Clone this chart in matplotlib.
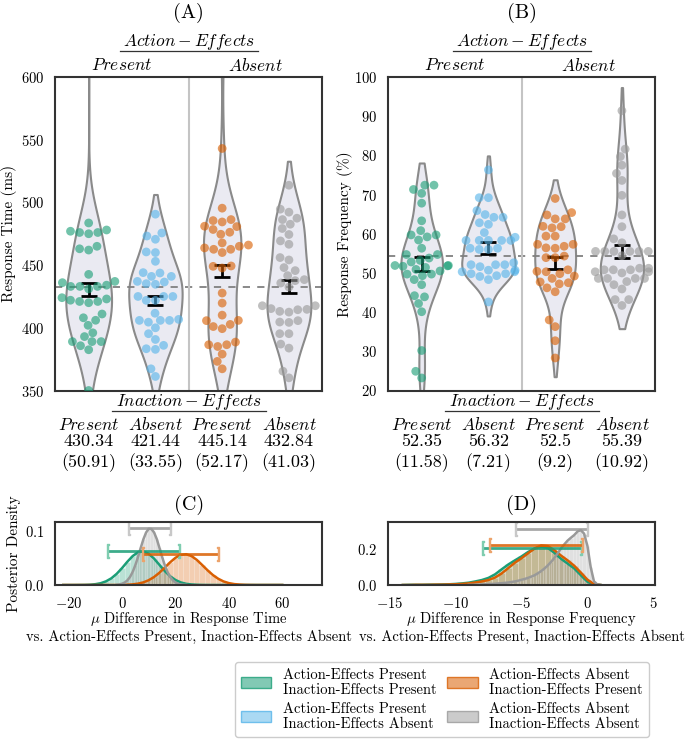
import matplotlib
matplotlib.use("Agg")
import matplotlib.pyplot as plt
from matplotlib.patches import Patch
from matplotlib.colors import to_rgba
import numpy as np
import pandas as pd
import seaborn as sns

plt.rcParams["font.family"] = "cmr10"
plt.rcParams["mathtext.fontset"] = "cm"
plt.rcParams["axes.formatter.use_mathtext"] = True

# ---- data -----------------------------------------------------------------
cond_order = ["pp", "pa", "ap", "aa"]
cond_colors = ["#1b9e77", "#56B4E9", "#d95f02", "#999999"]
top_labels = ["$Present$", "$Absent$"]
bottom_labels = ["$Present$", "$Absent$", "$Present$", "$Absent$"]

# (A) response time per participant (ms)
rt_pp = [483.6, 476, 476, 475, 477, 478, 463, 462, 465, 442.6, 433, 434, 436, 433, 433, 437,
         431, 424, 422, 421, 420, 421, 423, 411, 406, 408, 402, 396, 393, 389, 389, 389,
         385.7, 382.5, 350, 650]
rt_pa = [490.6, 473.2, 470.6, 475.6, 460, 460.5, 453, 441, 441, 435.2, 434.7, 443.7, 436.5,
         437, 444, 425, 421.9, 421.9, 425, 425, 406.7, 405.9, 400, 404.5, 405.9, 405.9, 411.6,
         390.7, 395.3, 383.3, 382.8, 386, 367.3, 361.2]
rt_ap = [543, 495.4, 481, 478.4, 484.4, 485.5, 480.7, 486.3, 474.6, 476.2, 467.7, 465, 462.6,
         460, 462.6, 463.7, 466, 447.7, 449.3, 449, 427.7, 419.7, 410.1, 405.7, 401, 399.3,
         402.7, 405.9, 388.6, 385.1, 386.5, 386.5, 379, 373.2, 367.3, 625]
rt_aa = [513.7, 494.6, 486.3, 487.4, 492.2, 479.2, 482.6, 474.4, 469.3, 466.6, 456, 454.1, 448,
         445.6, 441.6, 438.4, 437.6, 432.5, 435.7, 417.6, 415.3, 413.1, 412.5, 414.4, 414.7,
         417.6, 404.6, 404.3, 405.7, 395.3, 395.3, 387, 383.8, 365.4, 360.1]
rt_means = [430.34, 421.44, 445.14, 432.84]
rt_sds = [50.91, 33.55, 52.17, 41.03]
rt_err = [5.1, 3.6, 5.0, 4.9]
rt_ref = 432.5

# (B) response frequency per participant (%)
rf_pp = [71.3, 72.4, 72.4, 70.3, 67.8, 63.3, 59.2, 60.8, 59.7, 59.7, 58.4, 56.3, 54.7, 54.7,
         51.9, 50.9, 51.4, 51.7, 51.9, 51.8, 53.2, 49.3, 48.3, 49.7, 49.7, 44.2, 43.9, 42.2,
         40.1, 30.2, 24.9, 23.2, 53.8, 52.8, 50.5, 47.0]
rf_pa = [76.3, 69.2, 69.2, 65.9, 64.2, 64.2, 64.9, 62.4, 62.8, 59.1, 58.3, 58.3, 58.3, 58.3,
         58.3, 60.3, 56.0, 56.0, 56.3, 56.3, 52.1, 51.6, 52.6, 52.1, 52.1, 50.7, 50.3, 49.8,
         50.3, 49.1, 48.3, 49.3, 49.8, 50.7, 42.6]
rf_ap = [69.0, 65.4, 63.8, 63.8, 64.8, 61.9, 61.5, 61.8, 59.4, 59.4, 57.3, 56.4, 56.8, 57.3,
         56.3, 53.9, 54.3, 53.9, 50.8, 50.3, 49.8, 50.4, 48.6, 49.2, 47.7, 47.5, 47.2, 46.2,
         45.2, 38.0, 36.3, 32.7, 28.3]
rf_aa = [91.4, 81.6, 79.7, 77.5, 75.4, 73.6, 69.8, 64.8, 61.8, 58.7, 57.7, 55.5, 55.5, 55.5,
         55.5, 55.5, 55.5, 54.4, 50.8, 50.3, 51.2, 50.8, 50.3, 51.2, 50.0, 50.8, 48.6, 48.6,
         48.6, 48.6, 47.0, 45.9, 47.8, 43.2, 41.7, 43.2]
rf_means = [52.35, 56.32, 52.5, 55.39]
rf_sds = [11.58, 7.21, 9.2, 10.92]
rf_err = [1.8, 1.45, 1.55, 1.7]
rf_ref = 54.4

# (C) posterior density of mu difference in response time
c_x2 = [-22, -20, -18, -16, -14, -12, -10, -8, -6, -4, -2, 0, 2, 4, 6, 8, 10, 12, 14, 16, 18,
        20, 22, 24, 26, 28, 30, 32, 34, 36, 38, 40, 42, 44, 46, 48, 50, 52, 54, 56, 58, 60]
c_green = [0.0, 0.0, 0.0, 0.0001, 0.0002, 0.0006, 0.0015, 0.0033, 0.0068, 0.0124, 0.0207,
           0.0313, 0.0431, 0.0536, 0.0606, 0.0621, 0.0577, 0.0487, 0.0372, 0.0258, 0.0162,
           0.0093, 0.0048, 0.0022, 0.0010, 0.0004, 0.0001, 0.0, 0.0, 0.0, 0.0, 0.0, 0.0, 0.0,
           0.0, 0.0, 0.0, 0.0, 0.0, 0.0, 0.0, 0.0]
c_orange = [0.0, 0.0, 0.0, 0.0, 0.0, 0.0, 0.0, 0.0, 0.0, 0.0, 0.0, 0.0002, 0.0005, 0.0012,
            0.0025, 0.0049, 0.0089, 0.0148, 0.0227, 0.0321, 0.0419, 0.0503, 0.0557, 0.0569,
            0.0535, 0.0464, 0.0370, 0.0273, 0.0185, 0.0116, 0.0066, 0.0035, 0.0017, 0.0008,
            0.0003, 0.0001, 0.0, 0.0, 0.0, 0.0, 0.0, 0.0]
c_x1 = [-2, -1, 0, 1, 2, 3, 4, 5, 6, 7, 8, 9, 10, 11, 12, 13, 14, 15, 16, 17, 18, 19, 20, 21,
        22, 23, 24]
c_gray = [0.0004, 0.0011, 0.0023, 0.0046, 0.0086, 0.0150, 0.0244, 0.0370, 0.0522, 0.0688,
          0.0846, 0.0970, 0.1040, 0.1035, 0.0971, 0.0850, 0.0688, 0.0520, 0.0367, 0.0243,
          0.0151, 0.0087, 0.0046, 0.0023, 0.0011, 0.0005, 0.0002]
c_hdi = [(-5.1, 21.4, 0.063), (7.75, 35.75, 0.057), (2.75, 18.0, 0.105)]

# (D) posterior density of mu difference in response frequency
d_x05 = [-14, -13.5, -13, -12.5, -12, -11.5, -11, -10.5, -10, -9.5, -9, -8.5, -8, -7.5, -7,
         -6.5, -6, -5.5, -5, -4.5, -4, -3.5, -3, -2.5, -2, -1.5, -1, -0.5, 0, 0.5, 1]
d_green = [0.0, 0.001, 0.001, 0.001, 0.002, 0.002, 0.003, 0.004, 0.006, 0.009, 0.013, 0.020,
           0.028, 0.040, 0.060, 0.088, 0.115, 0.138, 0.160, 0.185, 0.205, 0.215, 0.208, 0.180,
           0.147, 0.120, 0.093, 0.055, 0.018, 0.003, 0.0]
d_orange = [0.0, 0.0, 0.001, 0.001, 0.001, 0.002, 0.002, 0.003, 0.004, 0.006, 0.009, 0.014,
            0.020, 0.028, 0.042, 0.065, 0.095, 0.125, 0.150, 0.178, 0.205, 0.222, 0.218, 0.195,
            0.165, 0.138, 0.108, 0.070, 0.030, 0.005, 0.0]
d_x025 = [-9, -8.75, -8.5, -8.25, -8, -7.75, -7.5, -7.25, -7, -6.75, -6.5, -6.25, -6, -5.75,
          -5.5, -5.25, -5, -4.75, -4.5, -4.25, -4, -3.75, -3.5, -3.25, -3, -2.75, -2.5, -2.25,
          -2, -1.75, -1.5, -1.25, -1, -0.75, -0.5, -0.25, 0, 0.25, 0.5, 0.75, 1]
d_gray = [0.001, 0.001, 0.002, 0.002, 0.003, 0.004, 0.005, 0.006, 0.007, 0.009, 0.010, 0.012,
          0.014, 0.017, 0.020, 0.024, 0.029, 0.034, 0.040, 0.047, 0.055, 0.066, 0.078, 0.093,
          0.110, 0.130, 0.152, 0.178, 0.205, 0.228, 0.249, 0.265, 0.280, 0.300, 0.308, 0.288,
          0.220, 0.100, 0.020, 0.003, 0.0]
d_hdi = [(-7.9, -0.47, 0.206), (-7.35, -0.4, 0.224), (-5.45, 0.0, 0.314)]

legend_labels = ["Action-Effects Present\nInaction-Effects Present",
                 "Action-Effects Present\nInaction-Effects Absent",
                 "Action-Effects Absent\nInaction-Effects Present",
                 "Action-Effects Absent\nInaction-Effects Absent"]

# ---- figure ---------------------------------------------------------------
W, H = 685, 741
fig = plt.figure(figsize=(W / 100, H / 100), dpi=100)


def px_axes(left, top, right, bottom):
    return fig.add_axes([left / W, 1 - bottom / H, (right - left) / W, (bottom - top) / H])


def style_spines(ax):
    for s in ax.spines.values():
        s.set_color("#333333")
        s.set_linewidth(1.5)
    ax.tick_params(length=0, pad=8, labelsize=10.5)


def violin_panel(ax, groups, means, sds, errs, ref, ylim, yticks, ylabel, letter):
    df = pd.DataFrame({"cond": np.repeat(cond_order, [len(g) for g in groups]),
                       "val": np.concatenate(groups)})
    sns.violinplot(data=df, x="cond", y="val", order=cond_order, inner=None, cut=1,
                   color="#EAEAF2", linecolor="#8a8a8a", linewidth=1.5, saturation=1, ax=ax)
    ax.axhline(ref, color="#808080", lw=1.3, ls=(0, (4, 4)), zorder=2)
    ax.axvline(1.5, color="#c4c4c4", lw=1.5, zorder=2)
    ax.errorbar(range(4), means, yerr=errs, fmt="none", ecolor="k", elinewidth=2,
                capsize=5.5, capthick=2, zorder=3)
    sns.swarmplot(data=df, x="cond", y="val", order=cond_order, hue="cond",
                  hue_order=cond_order, palette=cond_colors, size=6.3, alpha=0.62,
                  legend=False, ax=ax, zorder=4)
    ax.set_xlim(-0.5, 3.5)
    ax.set_ylim(*ylim)
    ax.set_yticks(yticks)
    ax.set_xticks([])
    ax.set_xlabel("")
    ax.set_ylabel(ylabel, fontsize=11)
    style_spines(ax)

    tr = ax.get_xaxis_transform()
    # header above the axes
    ax.text(1.5, 1.204, letter, transform=tr, ha="center", va="center", fontsize=14.5)
    ax.text(1.5, 1.112, "$Action-Effects$", transform=tr, ha="center", va="center", fontsize=12.5)
    ax.plot([0.47, 2.53], [1.082, 1.082], transform=tr, color="#333333", lw=0.9, clip_on=False)
    for i, lab in enumerate(top_labels):
        ax.text(0.5 + 2 * i, 1.038, lab, transform=tr, ha="center", va="center", fontsize=12.5)
    # table below the axes
    ax.text(1.5, -0.037, "$Inaction-Effects$", transform=tr, ha="center", va="center", fontsize=12.5)
    ax.plot([0.35, 2.65], [-0.065, -0.065], transform=tr, color="#333333", lw=0.9, clip_on=False)
    for i in range(4):
        ax.text(i, -0.110, bottom_labels[i], transform=tr, ha="center", va="center", fontsize=12.5)
        ax.text(i, -0.163, f"{means[i]}", transform=tr, ha="center", va="center", fontsize=13)
        ax.text(i, -0.231, f"({sds[i]})", transform=tr, ha="center", va="center", fontsize=13)


def posterior_panel(ax, curves, hdis, xlim, ylim, xticks, yticks, letter, xlabel):
    colors = ["#1b9e77", "#d95f02", "#999999"]
    light = ["#7fcdb0", "#eca36b", "#c8c8c8"]
    for (x, d, step), c in zip(curves, colors):
        ax.bar(x, d, width=step, color=c, alpha=0.3, edgecolor="white", linewidth=0.4)
        ax.plot(x, d, color=c, lw=1.8)
    for (lo, hi, y), c, lc in zip(hdis, colors, light):
        ax.plot([lo, hi], [y, y], color=c, lw=2, alpha=0.85)
        ax.plot([lo], [y], marker="$[$", ms=10, color=lc, ls="none")
        ax.plot([hi], [y], marker="$]$", ms=10, color=lc, ls="none")
    ax.set_xlim(*xlim)
    ax.set_ylim(*ylim)
    ax.set_xticks(xticks)
    ax.set_yticks(yticks)
    style_spines(ax)
    ax.text(0.5, 1.264, letter, transform=ax.transAxes, ha="center", va="center", fontsize=14.5)
    ax.text(0.5, -0.66, xlabel, transform=ax.transAxes, ha="center", va="center",
            fontsize=10.5, linespacing=1.15)


axA = px_axes(55.3, 77, 322.3, 390.5)
axB = px_axes(388.3, 77, 655.3, 390.5)
axC = px_axes(55.3, 521.7, 322.3, 585)
axD = px_axes(388.3, 521.7, 655.3, 585)

violin_panel(axA, [rt_pp, rt_pa, rt_ap, rt_aa], rt_means, rt_sds, rt_err, rt_ref,
             (350, 600), [350, 400, 450, 500, 550, 600], "Response Time (ms)", "(A)")
violin_panel(axB, [rf_pp, rf_pa, rf_ap, rf_aa], rf_means, rf_sds, rf_err, rf_ref,
             (20, 100), [20, 30, 40, 50, 60, 70, 80, 90, 100], "Response Frequency (%)", "(B)")
axA.yaxis.set_label_coords(-0.143, 0.5)
axB.yaxis.set_label_coords(-0.133, 0.5)

comp = "vs. Action-Effects Present, Inaction-Effects Absent"
posterior_panel(axC, [(c_x2, c_green, 2), (c_x2, c_orange, 2), (c_x1, c_gray, 1)], c_hdi,
                (-25, 75), (0, 0.117), [-20, 0, 20, 40, 60], [0.0, 0.1], "(C)",
                "$\\mu$ Difference in Response Time\n" + comp)
posterior_panel(axD, [(d_x05, d_green, 0.5), (d_x05, d_orange, 0.5), (d_x025, d_gray, 0.25)],
                d_hdi, (-15.1, 5.15), (0, 0.355), [-15, -10, -5, 0, 5], [0.0, 0.2], "(D)",
                "$\\mu$ Difference in Response Frequency\n" + comp)
axC.set_ylabel("Posterior Density", fontsize=11)
axC.yaxis.set_label_coords(-0.13, 0.5)

alphas = [0.55, 0.5, 0.55, 0.5]
handles = [Patch(facecolor=to_rgba(c, a), edgecolor=to_rgba(c, 0.8), linewidth=1)
           for c, a in zip(cond_colors, alphas)]
fig.legend(handles, legend_labels, ncol=2, loc="upper left",
           bbox_to_anchor=(235 / W, 1 - 662 / H), fontsize=10.5, frameon=True, fancybox=True,
           edgecolor="#cccccc", framealpha=1, handlelength=2.1, handleheight=0.8,
           labelspacing=0.3, columnspacing=0.7, borderpad=0.4, borderaxespad=0)

fig.savefig("out.png", dpi=100)
